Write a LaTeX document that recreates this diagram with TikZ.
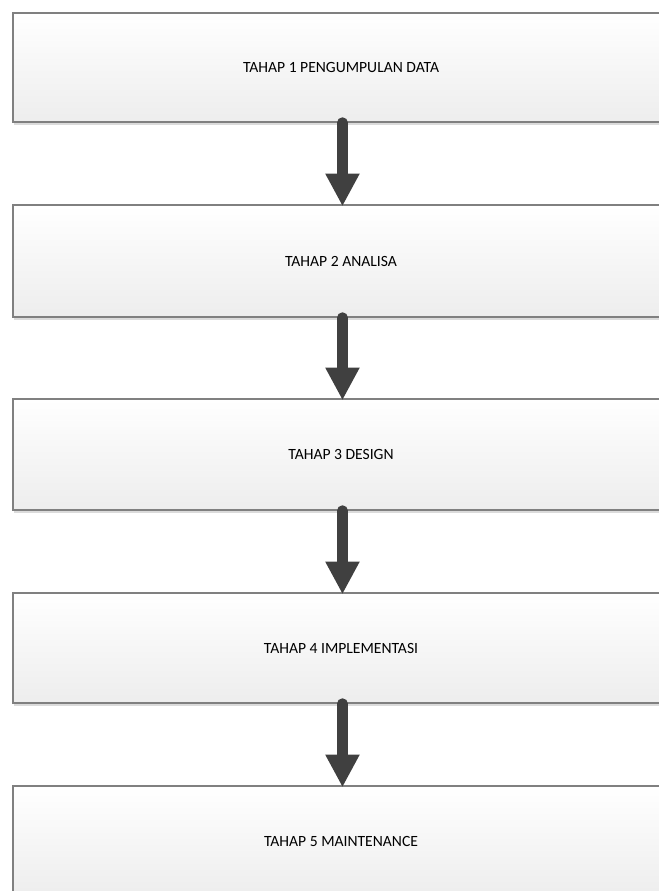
\documentclass[tikz,border=0pt]{standalone}
\usepackage{fontspec}
\setmainfont{Carlito}
\usetikzlibrary{arrows.meta,shadows}

\tikzset{
	tahap/.style={rectangle, draw=black!50, line width=1.1pt, top color=white, bottom color=black!7,
		minimum width=492pt, inner sep=0pt, font=\fontsize{11.7}{14}\selectfont,
		drop shadow={shadow xshift=0.6pt, shadow yshift=-2.2pt, fill=black!14, opacity=1}},
	panah/.style={draw=black!75, line width=8.2pt, line cap=round, shorten >=-1.5pt,
		-{Triangle[width=24pt, length=24.5pt]}}
}

\begin{document}
\begin{tikzpicture}[x=0.75pt,y=-0.75pt]
		\useasboundingbox (0,0) rectangle (659,891);
		\clip (0,0) rectangle (659,891);

		\draw (341,67.5) node [tahap, minimum height=81.75pt] (t1){TAHAP 1 PENGUMPULAN DATA};
		\draw (341,261) node [tahap, minimum height=84pt] (t2){TAHAP 2 ANALISA};
		\draw (341,454.5) node [tahap, minimum height=83.25pt] (t3){TAHAP 3 DESIGN};
		\draw (341,648) node [tahap, minimum height=82.5pt] (t4){TAHAP 4 IMPLEMENTASI};
		\draw (341,841) node [tahap, minimum height=82.5pt] (t5){TAHAP 5 MAINTENANCE};

		\draw[panah] ([xshift=1.1pt]t1.south) -- ([xshift=1.1pt]t2.north);
		\draw[panah] ([xshift=1.1pt]t2.south) -- ([xshift=1.1pt]t3.north);
		\draw[panah] ([xshift=1.1pt]t3.south) -- ([xshift=1.1pt]t4.north);
		\draw[panah] ([xshift=1.1pt]t4.south) -- ([xshift=1.1pt]t5.north);
	\end{tikzpicture}
\end{document}
